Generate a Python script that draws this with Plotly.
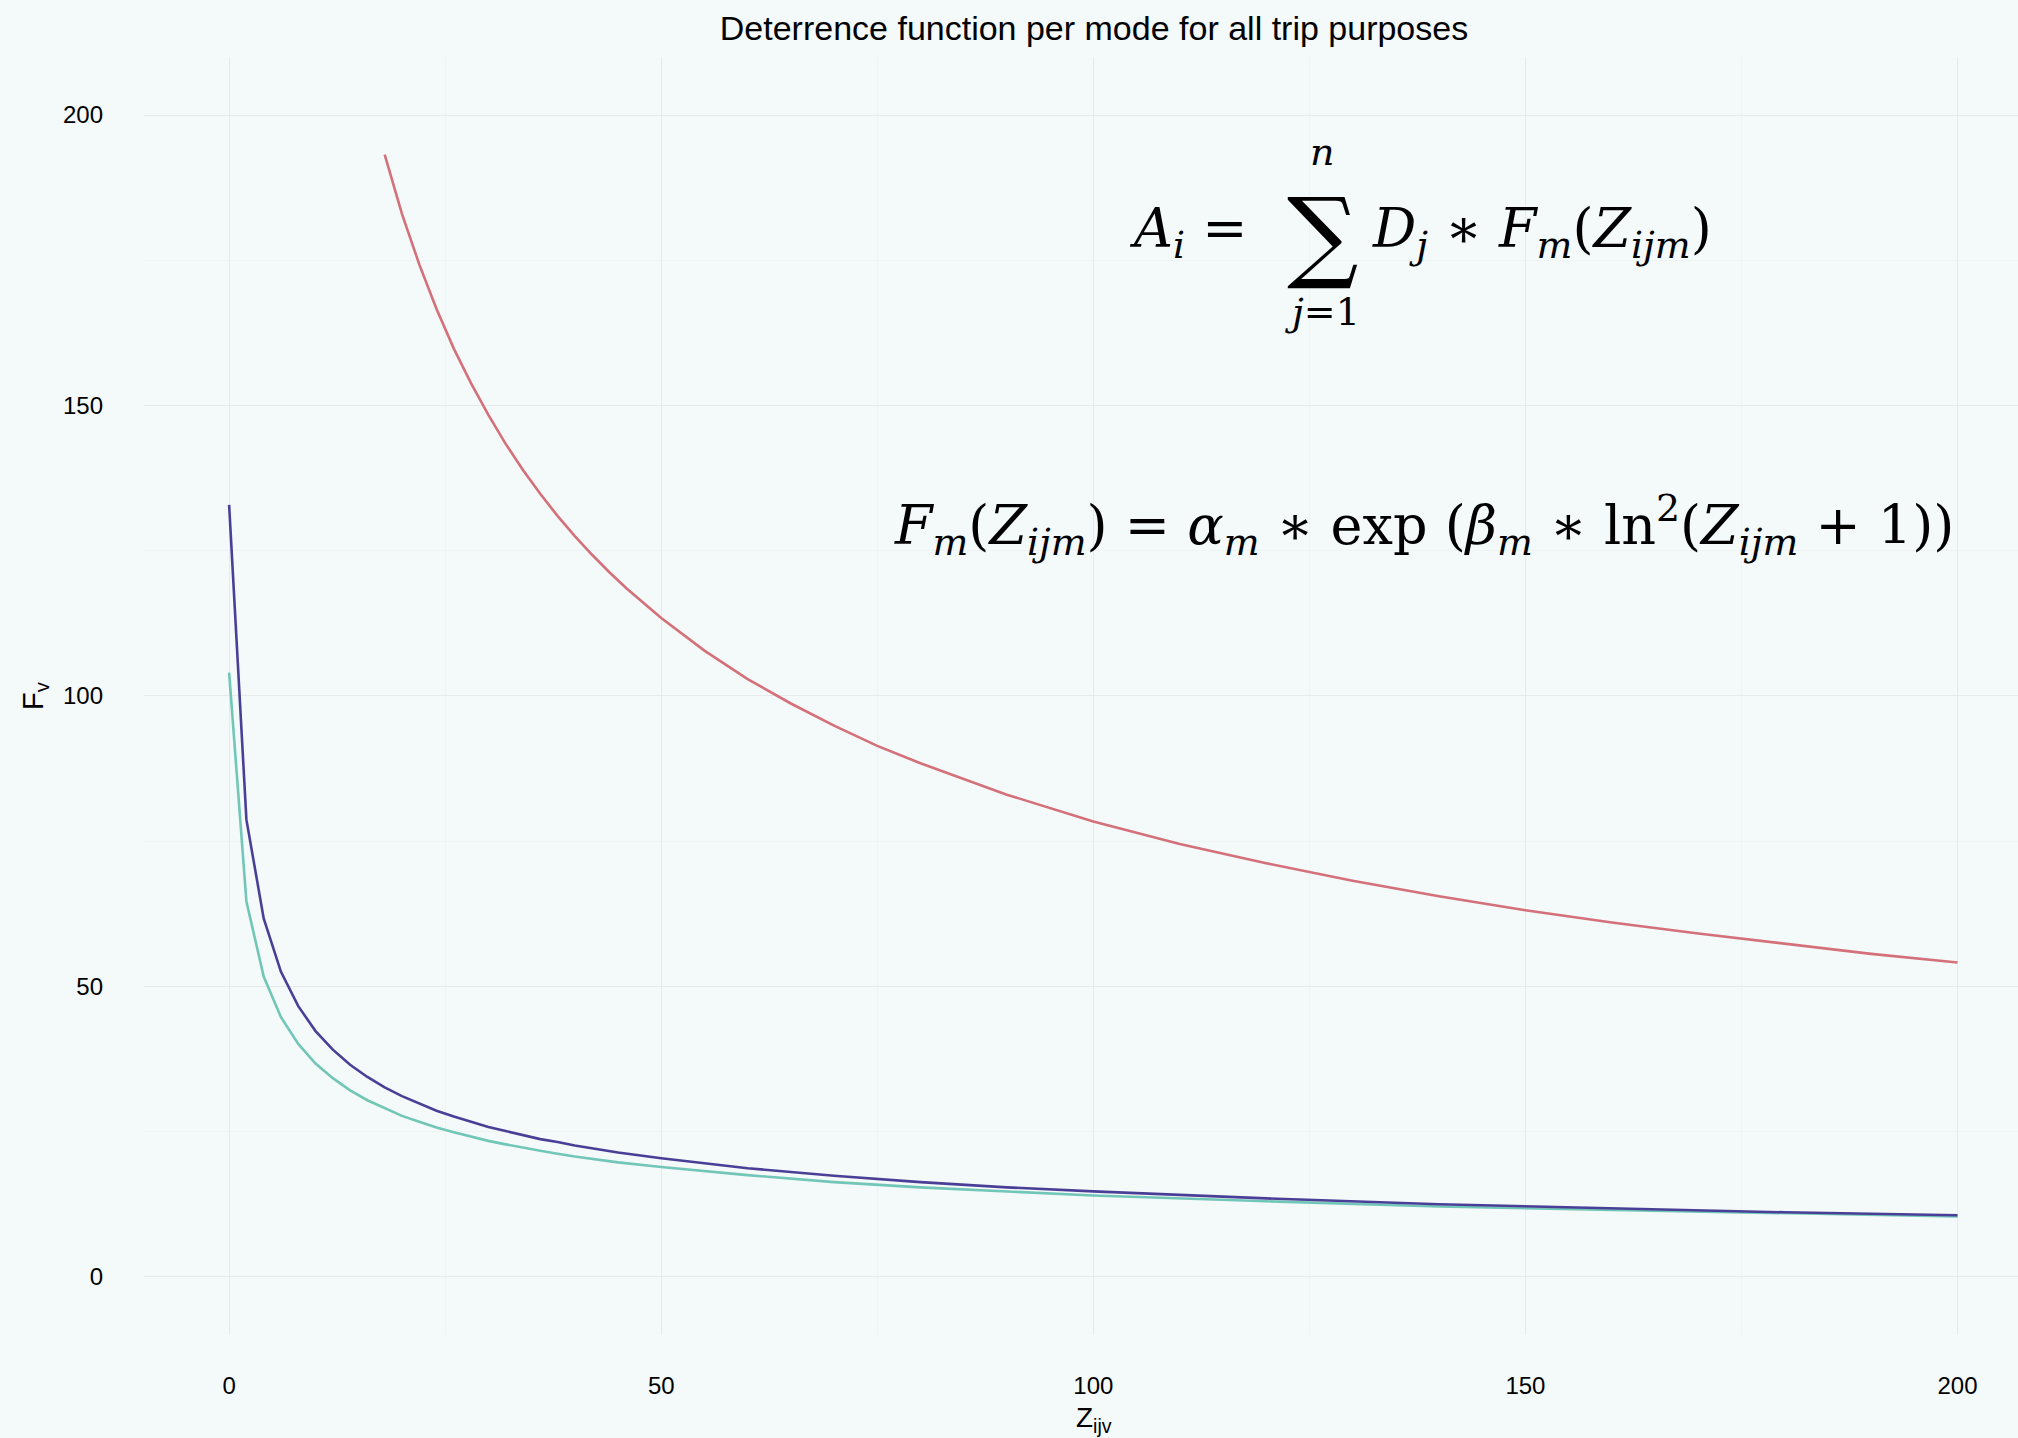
import plotly.graph_objects as go

# ---------------- data ----------------
z_low = [0, 2, 4, 6, 8, 10, 12, 14, 16, 18, 20, 22, 24, 26, 28, 30, 32, 34, 36, 38,
         40, 45, 50, 60, 70, 80, 90, 100, 120, 140, 160, 180, 200]
f_blue = [132.9, 78.7, 61.7, 52.5, 46.6, 42.3, 39.1, 36.5, 34.4, 32.6, 31.1, 29.8,
          28.6, 27.6, 26.7, 25.8, 25.1, 24.4, 23.7, 23.2, 22.6, 21.4, 20.4, 18.7,
          17.4, 16.3, 15.4, 14.7, 13.5, 12.5, 11.8, 11.1, 10.6]
f_teal = [104.0, 64.6, 51.7, 44.7, 40.1, 36.7, 34.2, 32.1, 30.4, 29.0, 27.7, 26.7,
          25.7, 24.9, 24.1, 23.4, 22.8, 22.2, 21.7, 21.2, 20.7, 19.7, 18.9, 17.5,
          16.3, 15.4, 14.7, 14.0, 13.0, 12.1, 11.5, 10.9, 10.4]

z_red = [18, 20, 22, 24, 26, 28, 30, 32, 34, 36, 38, 40, 42, 44, 46, 48, 50, 55, 60,
         65, 70, 75, 80, 90, 100, 110, 120, 130, 140, 150, 160, 170, 180, 190, 200]
f_red = [193.2, 183.0, 174.3, 166.6, 159.8, 153.8, 148.4, 143.4, 138.9, 134.8,
         131.0, 127.5, 124.3, 121.3, 118.5, 115.9, 113.4, 107.8, 102.9, 98.7, 94.9,
         91.4, 88.4, 83.0, 78.4, 74.5, 71.2, 68.2, 65.5, 63.1, 61.0, 59.1, 57.3,
         55.6, 54.1]

tick_vals = [0, 50, 100, 150, 200]
tick_text = ["0", "50", "100", "150", "200"]

title_text = "Deterrence function per mode for all trip purposes"
x_title = "Z<sub>ijv</sub>"
y_title = "F<sub>v</sub>"

# ---------------- layout geometry ----------------
W, H = 2018, 1438
ML, MR, MT, MB = 144, 0, 57, 103
PW, PH = W - ML - MR, H - MT - MB

def px(x):
    return (x - ML) / PW

def py(y):
    return (H - MB - y) / PH

BG = "#f4f9f9"
GRID = "#e6eaeb"
MINOR = "#eef3f3"
SANS = "Liberation Sans, Arial, Helvetica, sans-serif"
SERIF = "DejaVu Serif, Liberation Serif, serif"

fig = go.Figure()
fig.add_trace(go.Scatter(x=z_red, y=f_red, mode="lines",
                         line=dict(color="#d4707a", width=2.6), name="red"))
fig.add_trace(go.Scatter(x=z_low, y=f_teal, mode="lines",
                         line=dict(color="#72c6b8", width=2.6), name="teal"))
fig.add_trace(go.Scatter(x=z_low, y=f_blue, mode="lines",
                         line=dict(color="#4a3f97", width=2.6), name="blue"))

fs = 54
annotations = [
    dict(text="<i>A</i><sub><i>i</i></sub> =", x=px(1250), y=py(232),
         xanchor="right", yanchor="middle", font=dict(size=fs)),
    dict(text="\u2211", x=px(1322), y=py(234), xanchor="center", yanchor="middle",
         font=dict(size=100)),
    dict(text="<i>n</i>", x=px(1322), y=py(152), xanchor="center", yanchor="middle",
         font=dict(size=38)),
    dict(text="<i>j</i>=1", x=px(1322), y=py(312), xanchor="center", yanchor="middle",
         font=dict(size=38)),
    dict(text="<i>D</i><sub><i>j</i></sub> \u2217 <i>F</i><sub><i>m</i></sub>"
              "(<i>Z</i><sub><i>ijm</i></sub>)",
         x=px(1370), y=py(232), xanchor="left", yanchor="middle", font=dict(size=fs)),
    dict(text="<i>F</i><sub><i>m</i></sub>(<i>Z</i><sub><i>ijm</i></sub>) = "
              "<i>\u03b1</i><sub><i>m</i></sub> \u2217 exp (<i>\u03b2</i><sub><i>m</i></sub>"
              " \u2217 ln<sup>2</sup>(<i>Z</i><sub><i>ijm</i></sub> + 1))",
         x=px(1424), y=py(525), xanchor="center", yanchor="middle", font=dict(size=fs)),
]
for a in annotations:
    a.update(xref="paper", yref="paper", showarrow=False)
    a["font"].update(family=SERIF, color="black")

# x-axis title, centred under the full (uncropped) panel as in the reference
annotations.append(dict(text=x_title, xref="paper", yref="paper", showarrow=False,
                        x=px(1094), y=py(1419), xanchor="center", yanchor="middle",
                        font=dict(size=28, family=SANS, color="black")))

fig.update_layout(
    width=W, height=H,
    margin=dict(l=ML, r=MR, t=MT, b=MB, pad=0),
    paper_bgcolor=BG, plot_bgcolor=BG,
    showlegend=False,
    font=dict(family=SANS, color="black"),
    title=dict(text=title_text, x=1094 / W, xref="container",
               xanchor="center", y=1 - 28 / H, yanchor="middle",
               font=dict(size=34, family=SANS, color="black")),
    annotations=annotations,
)
fig.update_xaxes(
    range=[-9.85, 207.0], tickvals=tick_vals, ticktext=tick_text,
    showgrid=True, gridcolor=GRID, gridwidth=1.3, zeroline=False, showline=False,
    ticks="", tickfont=dict(size=24), ticklabelstandoff=34,
    minor=dict(dtick=25, tick0=0, showgrid=True, gridcolor=MINOR, gridwidth=1),
)
fig.update_yaxes(
    range=[-10.02, 210.0], tickvals=tick_vals, ticktext=tick_text,
    showgrid=True, gridcolor=GRID, gridwidth=1.3, zeroline=False, showline=False,
    ticks="", tickfont=dict(size=24), ticklabelstandoff=40,
    minor=dict(dtick=25, tick0=0, showgrid=True, gridcolor=MINOR, gridwidth=1),
    title=dict(text=y_title, font=dict(size=29), standoff=10),
)

fig.write_html(
    "out.html",
    config={"displayModeBar": False},
    post_script="document.body.style.margin='0';document.body.style.overflow='hidden';",
)
